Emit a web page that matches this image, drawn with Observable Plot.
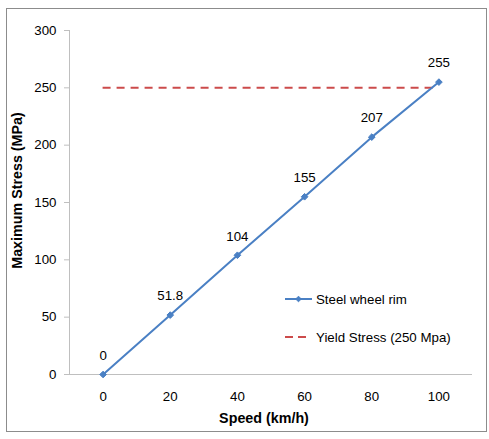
<!DOCTYPE html>
<html>
<head>
<meta charset="utf-8">
<script src="https://cdn.jsdelivr.net/npm/d3@7"></script>
<script src="https://cdn.jsdelivr.net/npm/@observablehq/plot@0.6"></script>
<style>
  html, body { margin: 0; padding: 0; background: #fff; }
  svg { display: block; }
</style>
</head>
<body>
<div id="chart"></div>
<script>
const speeds = [0, 20, 40, 60, 80, 100];
const stress = [0, 51.8, 104, 155, 207, 255];
const pointLabels = ["0", "51.8", "104", "155", "207", "255"];
const yieldStress = 250;
const yTicks = [0, 50, 100, 150, 200, 250, 300];
const seriesNames = ["Steel wheel rim", "Yield Stress (250 Mpa)"];
const xTitle = "Speed (km/h)";
const yTitle = "Maximum Stress (MPa)";

const blue = "#4a80c4";
const red = "#cc4b4b";
const data = speeds.map((s, i) => ({speed: s, stress: stress[i], label: pointLabels[i]}));

const plot = Plot.plot({
  width: 489,
  height: 439,
  marginLeft: 69,
  marginRight: 17,
  marginTop: 30,
  marginBottom: 65,
  style: {fontFamily: "'Liberation Sans', Arial, sans-serif", fontSize: "13.3px", color: "#000", background: "#fff"},
  x: {domain: [-10, 110]},
  y: {domain: [0, 300]},
  marks: [
    Plot.ruleX([-10], {stroke: "#bfbfbf"}),
    Plot.ruleY([0], {stroke: "#bfbfbf"}),
    Plot.axisY({ticks: yTicks, tickSize: 5, tickPadding: 8, stroke: "#bfbfbf", fill: "#000", label: null}),
    Plot.axisX({ticks: speeds, tickSize: 0, tickPadding: 17, fill: "#000", label: null}),
    Plot.ruleY([yieldStress], {x1: 0, x2: 100, stroke: red, strokeWidth: 2, strokeDasharray: "8,6"}),
    Plot.line(data, {x: "speed", y: "stress", stroke: blue, strokeWidth: 2}),
    Plot.dot(data, {x: "speed", y: "stress", symbol: "diamond2", fill: blue, stroke: blue, strokeWidth: 1, r: 3}),
    Plot.text(data, {x: "speed", y: "stress", text: "label", dy: -19, fill: "#000", fontSize: 13.3}),
    Plot.text([yTitle], {frameAnchor: "left", textAnchor: "middle", lineAnchor: "middle", dx: -52, dy: -12, rotate: -90, fontWeight: "bold", fontSize: 14.3, fill: "#000"}),
    Plot.text([xTitle], {frameAnchor: "bottom", textAnchor: "middle", lineAnchor: "middle", dx: -7, dy: 44, fontWeight: "bold", fontSize: 14.3, fill: "#000"})
  ]
});

const svg = d3.select(plot);
svg.insert("rect", ":first-child")
  .attr("x", 6.5).attr("y", 8.5).attr("width", 480).attr("height", 423)
  .attr("fill", "none").attr("stroke", "#8c8c8c");

const lg = svg.append("g")
  .attr("font-family", "'Liberation Sans', Arial, sans-serif")
  .attr("font-size", 13.3)
  .attr("text-anchor", "start");
// series 1
lg.append("line").attr("x1", 285).attr("x2", 312).attr("y1", 299).attr("y2", 299)
  .attr("stroke", blue).attr("stroke-width", 2);
lg.append("path").attr("d", d3.symbol(d3.symbolDiamond2, 20)()).attr("transform", "translate(298.5,299)")
  .attr("fill", blue).attr("stroke", blue);
lg.append("text").attr("x", 316).attr("y", 299).attr("dy", "0.35em").attr("fill", "#000").text(seriesNames[0]);
// series 2
lg.append("line").attr("x1", 285).attr("x2", 306).attr("y1", 337).attr("y2", 337)
  .attr("stroke", red).attr("stroke-width", 2).attr("stroke-dasharray", "8,5");
lg.append("text").attr("x", 316).attr("y", 337).attr("dy", "0.35em").attr("fill", "#000").text(seriesNames[1]);

document.getElementById("chart").appendChild(plot);
</script>
</body>
</html>
